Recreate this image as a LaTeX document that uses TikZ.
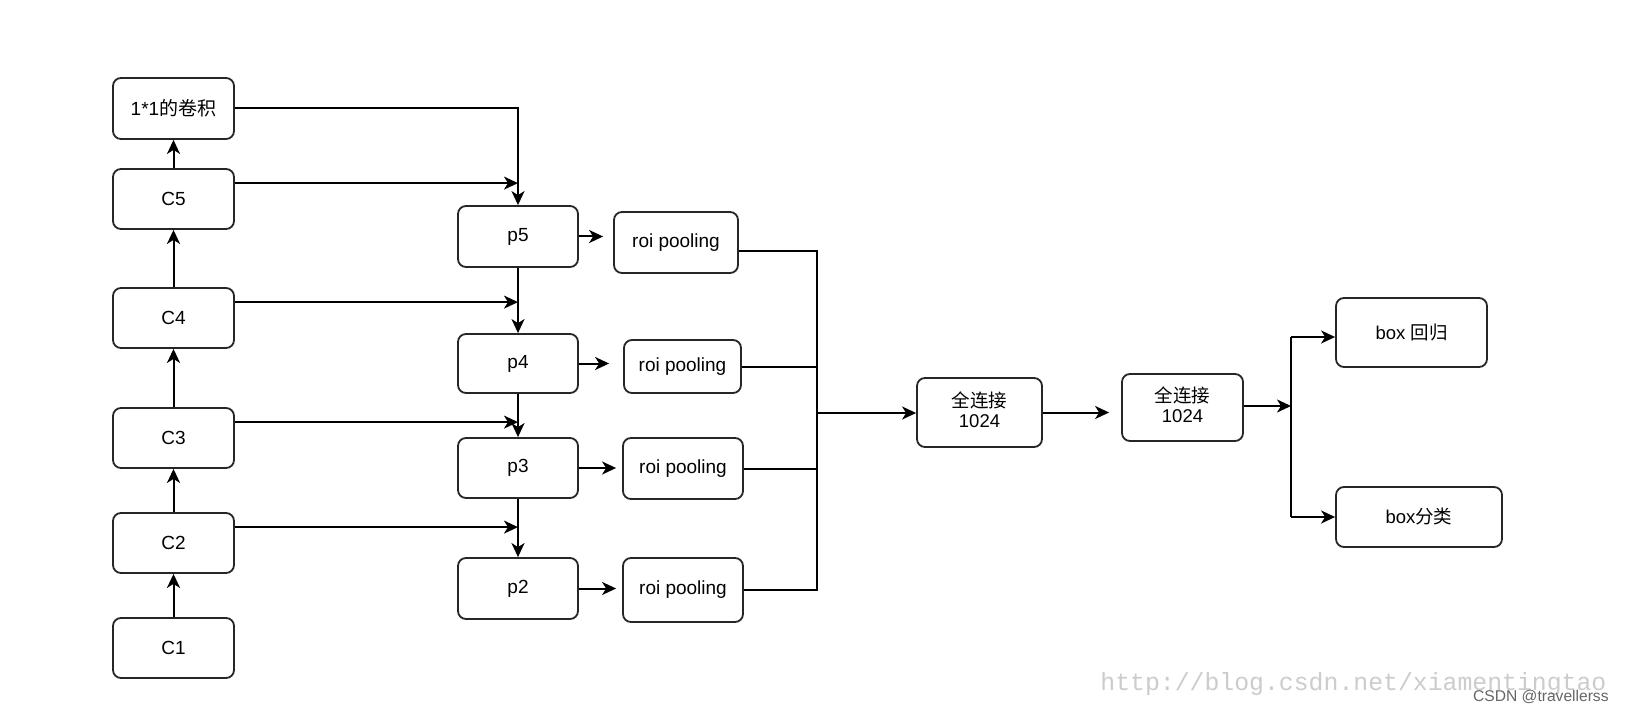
\documentclass[tikz,border=0pt]{standalone}
\usepackage{fontspec}
\setmainfont{Liberation Sans}
\newfontfamily\cjk{Noto Sans CJK SC}
\newfontfamily\wmfont{Liberation Mono}
\usetikzlibrary{arrows.meta}
\begin{document}
\begin{tikzpicture}[x=0.5pt,y=-0.5pt,
  blk/.style={draw=black!85, line width=0.9pt, rounded corners=4pt, inner sep=0pt, align=center, font=\fontsize{9.5pt}{11pt}\selectfont},
  sml/.style={blk, font=\fontsize{9.25pt}{10pt}\selectfont},
  arr/.style={line width=1pt, -{Stealth[length=7pt,width=6.5pt,inset=2pt]}},
  ln/.style={line width=1pt}]
\fill[white] (0,0) rectangle (1626,711);
\useasboundingbox (0,0) rectangle (1626,711);
% backbone
\node[blk, minimum width=60.5pt, minimum height=30.5pt] (conv) at (173.5,108.5) {1*1{\cjk 的卷积}};
\node[blk, minimum width=60.5pt, minimum height=30pt] (C5) at (173.5,199) {C5};
\node[blk, minimum width=60.5pt, minimum height=30pt] (C4) at (173.5,318) {C4};
\node[blk, minimum width=60.5pt, minimum height=30pt] (C3) at (173.5,438) {C3};
\node[blk, minimum width=60.5pt, minimum height=30pt] (C2) at (173.5,543) {C2};
\node[blk, minimum width=60.5pt, minimum height=30pt] (C1) at (173.5,648) {C1};
% pyramid
\node[blk, minimum width=60pt, minimum height=30.5pt] (p5) at (518,236.5) {p5};
\node[blk, minimum width=60pt, minimum height=29.5pt] (p4) at (518,363.5) {p4};
\node[blk, minimum width=60pt, minimum height=30pt] (p3) at (518,468) {p3};
\node[blk, minimum width=60pt, minimum height=30.5pt] (p2) at (518,588.5) {p2};
% roi pooling
\node[blk, minimum width=62pt, minimum height=30.5pt] (r5) at (676,242.5) {roi pooling};
\node[blk, minimum width=58.5pt, minimum height=26.5pt] (r4) at (682.5,366.5) {roi pooling};
\node[blk, minimum width=60pt, minimum height=30.5pt] (r3) at (683,468.5) {roi pooling};
\node[blk, minimum width=60pt, minimum height=32pt] (r2) at (683,590) {roi pooling};
% heads
\node[sml, minimum width=62.5pt, minimum height=34.5pt] (fc1) at (979.5,412.5) {\begin{tabular}{@{}c@{}}{\cjk 全连接}\\1024\end{tabular}};
\node[sml, minimum width=60.5pt, minimum height=33.5pt] (fc2) at (1182.5,407.5) {\begin{tabular}{@{}c@{}}{\cjk 全连接}\\1024\end{tabular}};
\node[sml, minimum width=75.5pt, minimum height=34.5pt] (reg) at (1411.5,332.5) {box {\cjk 回归}};
\node[sml, minimum width=83pt, minimum height=30pt] (cls) at (1419,517) {box{\cjk 分类}};
% backbone arrows
\draw[arr] (C1) -- (C2);
\draw[arr] (C2) -- (C3);
\draw[arr] (C3) -- (C4);
\draw[arr] (C4) -- (C5);
\draw[arr] (C5) -- (conv);
\draw[arr] (conv.east) -| (p5.north);
\coordinate (c5o) at ([yshift=-7.5pt]C5.north east);
\coordinate (c4o) at ([yshift=-7.5pt]C4.north east);
\coordinate (c3o) at ([yshift=-7.5pt]C3.north east);
\coordinate (c2o) at ([yshift=-7.5pt]C2.north east);
\draw[arr] (c5o) -- (c5o -| p5.north);
\draw[arr] (c4o) -- (c4o -| p4.north);
\draw[arr] (c3o) -- (c3o -| p3.north);
\draw[arr] (c2o) -- (c2o -| p2.north);
% top-down
\draw[arr] (p5) -- (p4);
\draw[arr] (p4) -- (p3);
\draw[arr] (p3) -- (p2);
% to roi pooling
\draw[arr, shorten >=5pt] (p5.east) -- (p5.east -| r5.west);
\draw[arr, shorten >=7pt] (p4.east) -- (p4.east -| r4.west);
\draw[arr, shorten >=3pt] (p3.east) -- (p3.east -| r3.west);
\draw[arr, shorten >=3pt] (p2.east) -- (p2.east -| r2.west);
% bus
\coordinate (bus) at (817,413);
\coordinate (busT) at (817,251);
\draw[ln] (r5.east |- busT) -- (busT) -- (bus |- r2.east) -- (r2.east);
\draw[ln] (r4.east) -- (r4.east -| bus);
\draw[ln] (r3.east) -- (r3.east -| bus);
\draw[arr] (bus) -- (bus -| fc1.west);
\draw[arr, shorten >=6pt] (fc1.east) -- (fc1.east -| fc2.west);
\coordinate (b2) at (1291,406);
\coordinate (b2T) at (1291,337);
\coordinate (b2B) at (1291,517);
\draw[arr] (fc2.east |- b2) -- (b2);
\draw[ln] (b2T) -- (b2B);
\draw[arr] (b2T) -- (b2T -| reg.west);
\draw[arr] (b2B) -- (b2B -| cls.west);
% watermarks
\node[anchor=base west, inner sep=0pt, text=black!20, font=\wmfont\fontsize{12.4pt}{12pt}\selectfont] (wm) at (1100,690) {http://blog.csdn.net/xiamentingtao};
\node[anchor=base east, inner sep=0pt, text=black!60, font=\fontsize{7.8pt}{8pt}\selectfont] (csdn) at (1609,701) {CSDN @travellerss};
\end{tikzpicture}
\end{document}
